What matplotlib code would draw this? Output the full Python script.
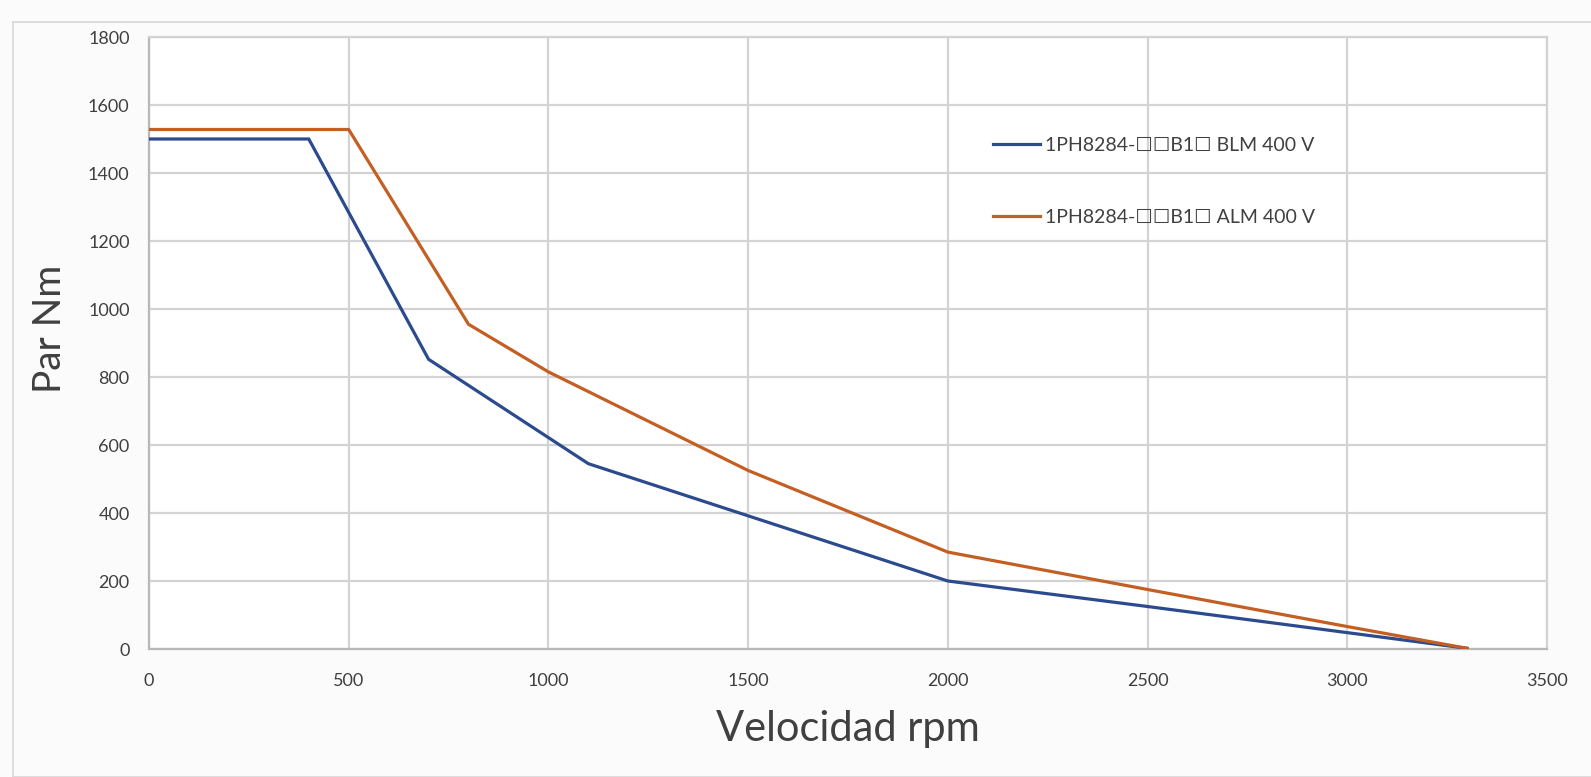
import matplotlib
matplotlib.use("Agg")
import matplotlib.pyplot as plt
from matplotlib.patches import Rectangle

rpm_blm = [0, 400, 700, 1100, 2000, 2500, 3300]
par_blm = [1500, 1500, 852, 545, 200, 125, 2]

rpm_alm = [0, 500, 800, 1000, 1500, 2000, 2500, 3000, 3300]
par_alm = [1528, 1528, 955, 815, 525, 285, 175, 66, 2]

label_blm = "1PH8284-\u2610\u2610B1\u2610 BLM 400 V"
label_alm = "1PH8284-\u2610\u2610B1\u2610 ALM 400 V"

x_ticks = [0, 500, 1000, 1500, 2000, 2500, 3000, 3500]
y_ticks = [0, 200, 400, 600, 800, 1000, 1200, 1400, 1600, 1800]

text_color = "#404040"
grid_color = "#d3d3d3"

plt.rcParams["font.family"] = ["Lato", "DejaVu Sans"]

fig = plt.figure(figsize=(15.91, 7.77), dpi=100, facecolor="#fbfbfb")
ax = fig.add_axes([149 / 1591, 1 - 649 / 777, 1398 / 1591, 612 / 777])
ax.set_facecolor("white")

# marco exterior del grafico
fig.patches.append(Rectangle((13 / 1591, 0.0), 1.0, 1 - 22 / 777,
                             transform=fig.transFigure, fill=False,
                             edgecolor="#d8d8d8", linewidth=1.2))

ax.plot(rpm_blm, par_blm, color="#2c4a8e", linewidth=2.3, label=label_blm,
        solid_joinstyle="miter", zorder=3)
ax.plot(rpm_alm, par_alm, color="#c45f24", linewidth=2.3, label=label_alm,
        solid_joinstyle="miter", zorder=3)

ax.set_xlim(0, 3500)
ax.set_ylim(0, 1800)
ax.set_xticks(x_ticks)
ax.set_yticks(y_ticks)
ax.grid(True, color=grid_color, linewidth=1.6)
ax.set_axisbelow(True)
for s in ax.spines.values():
    s.set_color(grid_color)
    s.set_linewidth(1.6)
ax.spines["left"].set_color("#b8b8b8")
ax.spines["bottom"].set_color("#b8b8b8")

ax.tick_params(axis="both", length=0, labelsize=13, labelcolor=text_color)
ax.tick_params(axis="x", pad=17)
ax.tick_params(axis="y", pad=14)

ax.set_xlabel("Velocidad rpm", fontsize=30, color=text_color, va="center")
ax.xaxis.set_label_coords(0.5, -0.131)
ax.set_ylabel("Par Nm", fontsize=28, color=text_color, va="center")
ax.yaxis.set_label_coords(-0.0708, 0.523)

leg = ax.legend(loc="center left", bbox_to_anchor=(0.6037, 0.764), frameon=False,
                fontsize=14, handlelength=2.4, handletextpad=0.28,
                labelspacing=2.85, borderaxespad=0, borderpad=0)
for t in leg.get_texts():
    t.set_color(text_color)

fig.savefig("out.png", dpi=100, facecolor=fig.get_facecolor())
